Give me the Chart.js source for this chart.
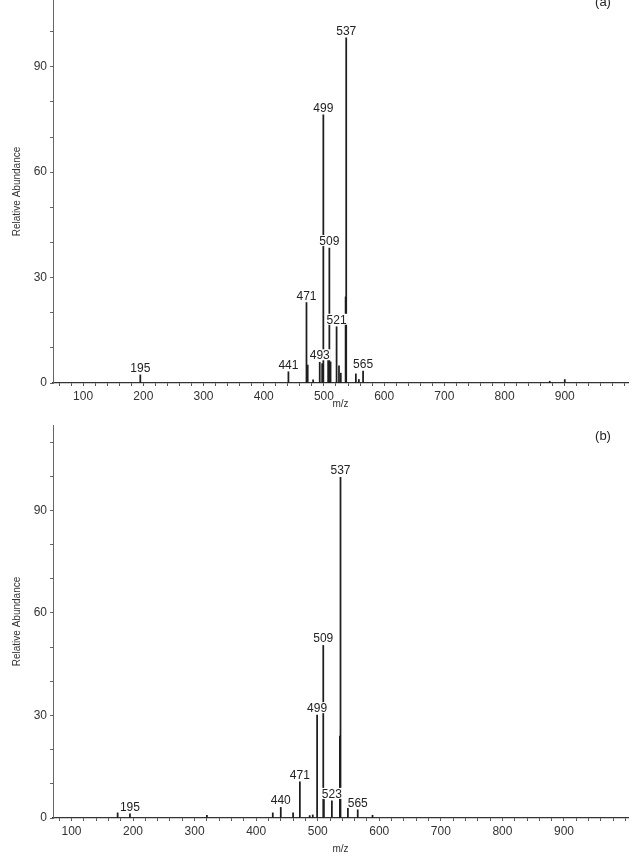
<!DOCTYPE html>
<html><head><meta charset="utf-8">
<script src="https://cdn.jsdelivr.net/npm/chart.js@4.4.1/dist/chart.umd.min.js"></script>
<style>
html,body{margin:0;padding:0;background:#fff;width:633px;height:860px;overflow:hidden;}
canvas{position:absolute;left:0;}
#ca{top:0}
#cb{top:412px}
</style></head><body>
<canvas id="ca" width="633" height="412"></canvas>
<canvas id="cb" width="633" height="448"></canvas>
<script>
// ---- data ----
const mzA  = [195, 441, 471, 473, 482, 493, 497, 499, 507, 509, 511, 521, 525, 528, 536, 537, 553, 558, 565, 875, 900];
const intA = [2.3, 3.2, 22.9, 5.1, 0.9, 5.9, 5.5, 76.3, 6.5, 38.4, 6.0, 16.0, 4.9, 2.8, 24.5, 98.2, 2.6, 1.0, 3.4, 0.5, 1.0];
const labelsA = [195, 441, 471, 493, 499, 509, 521, 537, 565];

const mzB  = [175, 195, 320, 427, 440, 460, 471, 487, 492, 499, 509, 510, 523, 536, 537, 549, 565, 589];
const intB = [1.5, 1.2, 0.8, 1.5, 3.1, 1.5, 10.6, 0.7, 0.9, 30.1, 50.5, 5.4, 5.0, 24.0, 99.7, 2.9, 2.4, 0.8];
const labelsB = [195, 440, 471, 499, 509, 523, 537, 565];

const yTickLabels = [0, 30, 60, 90];
const xTickLabels = [100, 200, 300, 400, 500, 600, 700, 800, 900];
const panelTags = ['(a)', '(b)'];
const xTitle = 'm/z';
const yTitle = 'Relative Abundance';

const FONT = '"Liberation Sans", Arial, sans-serif';

const peakLabels = {
  id: 'peakLabels',
  afterDatasetsDraw(chart, args, opts) {
    const ctx = chart.ctx, xs = chart.scales.x, ys = chart.scales.y;
    const pts = chart.data.datasets[0].data;
    ctx.save();
    ctx.font = '12px ' + FONT;
    ctx.textAlign = 'center';
    ctx.textBaseline = 'alphabetic';
    opts.labels.forEach(m => {
      const p = pts.find(d => d.x === m);
      if (!p) return;
      const x = xs.getPixelForValue(p.x);
      const y = ys.getPixelForValue(p.y) - 2;
      const t = String(m);
      const w = ctx.measureText(t).width;
      ctx.fillStyle = '#fff';
      ctx.fillRect(x - w / 2 - 1, y - 11, w + 2, 11);
      ctx.fillStyle = '#222';
      ctx.fillText(t, x, y - 1);
    });
    const ca = chart.chartArea;
    ctx.font = '13px ' + FONT;
    ctx.textBaseline = 'middle';
    ctx.fillStyle = '#222';
    ctx.fillText(opts.tag, ca.right - 25, ca.top + opts.tagDy);
    ctx.restore();
  }
};

function makeChart(id, mz, inten, labels, tag, opts) {
  const data = mz.map((m, i) => ({ x: m, y: inten[i] }));
  return new Chart(document.getElementById(id), {
    type: 'bar',
    data: { datasets: [{ data, backgroundColor: '#1e1e1e', borderWidth: 0, barThickness: 1.1 }] },
    options: {
      responsive: false, animation: false,
      layout: { padding: { top: opts.padTop, right: 5, bottom: 0, left: 0 } },
      plugins: { legend: { display: false }, tooltip: { enabled: false },
        peakLabels: { labels, tag, tagDy: opts.tagDy } },
      scales: {
        x: {
          type: 'linear', min: opts.xmin, max: opts.xmax, offset: false,
          afterBuildTicks: s => { const t = []; for (let v = Math.ceil(s.min / 20) * 20; v <= s.max; v += 20) t.push({ value: v }); s.ticks = t; },
          afterFit: s => { s.height = opts.xh; s.paddingLeft = 0; s.paddingRight = 0; },
          grid: { display: true, drawOnChartArea: false, drawTicks: true, tickLength: 3, color: '#555', offset: false },
          border: { display: true, color: '#333', width: 1.3 },
          ticks: { autoSkip: false, maxRotation: 0, padding: 3, color: '#333', font: { family: FONT, size: 12 },
            callback: v => xTickLabels.includes(v) ? String(v) : '' },
          title: { display: true, text: xTitle, color: '#333', font: { family: FONT, size: 10 }, padding: { top: 0, bottom: opts.titleBottom } }
        },
        y: {
          min: 0, max: opts.ymax,
          afterBuildTicks: s => { const t = []; for (let v = 0; v <= s.max; v += 10) t.push({ value: v }); s.ticks = t; },
          afterFit: s => { s.width = 53; s.paddingTop = 0; s.paddingBottom = 0; },
          grid: { display: true, drawOnChartArea: false, drawTicks: true, tickLength: 3, color: '#666' },
          border: { display: true, color: '#666', width: 1 },
          ticks: { autoSkip: false, padding: 3, color: '#333', font: { family: FONT, size: 12 },
            callback: v => yTickLabels.includes(v) ? String(v) : '' },
          title: { display: true, text: yTitle, color: '#333', font: { family: FONT, size: 10 }, padding: { top: 11, bottom: 0 } }
        }
      }
    },
    plugins: [peakLabels]
  });
}

makeChart('ca', mzA, intA, labelsA, panelTags[0], { padTop: 0, xh: 29, xmin: 50, xmax: 1005, ymax: 109, tagDy: 2, titleBottom: 2 });
makeChart('cb', mzB, intB, labelsB, panelTags[1], { padTop: 13, xh: 42, xmin: 70, xmax: 1004, ymax: 115, tagDy: 11, titleBottom: 5 });
</script>
</body></html>
